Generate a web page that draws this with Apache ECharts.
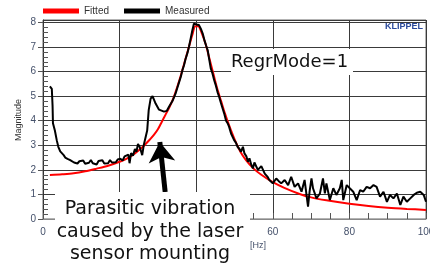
<!DOCTYPE html>
<html>
<head>
<meta charset="utf-8">
<script src="https://cdn.jsdelivr.net/npm/echarts@6/dist/echarts.min.js"></script>
<style>
  html, body { margin: 0; padding: 0; background: #fff; }
  #chart { width: 430px; height: 263px; }
</style>
</head>
<body>
<div id="chart"></div>
<script>
// Fitted curve (red)
var fittedFreq = [1.8, 5, 8, 11, 14, 17, 20, 22, 24, 26, 28, 29, 30, 31, 32, 33, 34, 35, 36, 37, 38, 39, 39.8, 40.5, 41.5, 42.5, 43.5, 44.5, 45.5, 46.5, 47.5, 48.5, 50, 51.5, 53, 55, 57, 60, 63, 67, 70, 74, 80, 85, 90, 95, 100];
var fittedMag = [1.79, 1.82, 1.86, 1.94, 2.05, 2.17, 2.33, 2.47, 2.67, 2.93, 3.25, 3.43, 3.65, 3.95, 4.25, 4.55, 4.9, 5.35, 5.85, 6.4, 6.95, 7.5, 7.85, 7.85, 7.55, 7.1, 6.5, 5.9, 5.3, 4.8, 4.3, 3.85, 3.25, 2.75, 2.4, 2.05, 1.8, 1.5, 1.27, 1.02, 0.88, 0.76, 0.62, 0.53, 0.46, 0.41, 0.37];

// Measured curve (black)
var measuredFreq = [1.8, 2.3, 2.5, 2.6, 3.1, 3.6, 4.0, 4.5, 4.9, 5.4, 5.8, 6.4, 7.1, 7.6, 8.1, 8.6, 9.0, 9.5, 10, 10.5, 11, 11.5, 12, 12.5, 13, 13.5, 14, 14.5, 15, 15.5, 16, 16.5, 17, 17.5, 18, 18.5, 19, 19.5, 20.2, 20.8, 21.3, 21.8, 22.3, 22.6, 23, 23.5, 24, 24.4, 24.8, 25.2, 25.6, 25.9, 26.3, 26.7, 27.2, 27.6, 28.1, 28.6, 29.0, 29.4, 29.8, 30.3, 30.8, 31.6, 32.3, 32.9, 33.4, 33.8, 34.2, 34.6, 35.1, 35.5, 36.0, 36.4, 36.8, 37.2, 37.7, 38.1, 38.5, 39.0, 39.4, 39.7, 40.0, 40.3, 40.7, 41.2, 41.7, 42.2, 42.6, 43.0, 43.4, 43.8, 44.2, 44.7, 45.1, 45.6, 46.0, 46.4, 46.9, 47.3, 47.8, 48.2, 48.6, 49.1, 49.5, 49.9, 50.4, 50.8, 51.3, 51.7, 52.2, 52.6, 53.1, 53.5, 53.9, 54.4, 54.8, 55.2, 55.6, 56.1, 56.5, 57.0, 57.4, 57.9, 58.3, 58.7, 59.1, 59.6, 60.0, 60.9, 61.5, 62.2, 63.1, 64.0, 64.8, 65.7, 66.6, 67.5, 68.3, 69.2, 69.6, 70.1, 70.5, 71.4, 72.3, 73.1, 73.6, 74.0, 74.9, 75.8, 76.6, 77.5, 78.0, 78.4, 79.3, 80.1, 81.0, 81.9, 82.8, 83.6, 84.5, 85.4, 86.3, 87.1, 88.0, 88.9, 89.8, 90.6, 91.5, 92.4, 93.3, 94.1, 95.0, 95.9, 96.8, 97.6, 98.5, 99.4, 100];
var measuredMag = [5.4, 5.3, 4.6, 3.9, 3.6, 3.2, 2.94, 2.75, 2.67, 2.6, 2.5, 2.45, 2.4, 2.44, 2.3, 2.36, 2.26, 2.35, 2.28, 2.38, 2.25, 2.33, 2.29, 2.4, 2.27, 2.35, 2.22, 2.36, 2.3, 2.39, 2.26, 2.33, 2.27, 2.4, 2.3, 2.36, 2.31, 2.42, 2.45, 2.38, 2.55, 2.47, 2.62, 2.27, 2.68, 2.58, 2.85, 2.74, 3.05, 2.95, 2.76, 2.6, 3.0, 3.05, 3.6, 4.43, 4.9, 5.0, 4.85, 4.7, 4.65, 4.45, 4.38, 4.37, 4.4, 4.57, 4.7, 4.8, 4.95, 5.1, 5.35, 5.55, 5.8, 6.06, 6.25, 6.5, 6.75, 7.0, 7.3, 7.68, 7.95, 8.0, 7.92, 7.89, 7.9, 7.75, 7.55, 7.25, 7.05, 6.87, 6.5, 6.13, 5.95, 5.65, 5.45, 5.15, 4.97, 4.75, 4.5, 4.3, 4.0, 3.9, 3.75, 3.48, 3.4, 3.21, 3.1, 2.94, 2.85, 2.74, 2.94, 2.67, 2.55, 2.33, 2.47, 2.2, 2.06, 2.3, 2.26, 2.0, 1.92, 2.15, 2.13, 1.85, 1.79, 1.7, 1.59, 1.55, 1.45, 1.65, 1.55, 1.45, 1.59, 1.38, 1.72, 1.31, 1.45, 1.11, 1.59, 0.5, 1.11, 1.65, 1.25, 0.84, 1.04, 1.65, 1.04, 1.45, 0.77, 1.25, 0.98, 1.25, 1.59, 0.77, 1.38, 1.25, 1.11, 0.77, 1.18, 1.11, 1.31, 1.25, 1.38, 1.31, 0.91, 1.11, 0.7, 0.98, 0.84, 1.04, 0.57, 0.91, 0.7, 0.84, 0.98, 1.07, 1.11, 0.98, 0.7];

// Annotation arrow (tail, tip) in axis units
var arrowFrom = [31.9, 1.1];
var arrowTo = [30.5, 3.13];

var xMin = 0, xMax = 100, xStep = 20;
var yMin = 0, yMax = 8.1, yStep = 1;

function pairs(xs, ys) {
  return xs.map(function (x, i) { return [x, ys[i]]; });
}

var dom = document.getElementById("chart");
var myChart = echarts.init(dom, null, { renderer: "canvas" });

var gridColor = "#3a3a3a";
var labelColor = "#44506a";

var option = {
  animation: false,
  textStyle: { fontFamily: "Liberation Sans, Arial, sans-serif" },
  legend: {
    left: 38,
    top: 1,
    itemGap: 15,
    itemWidth: 36,
    itemHeight: 5,
    textStyle: { fontSize: 10, color: "#333" },
    data: [
      { name: "Fitted", icon: "rect" },
      { name: "Measured", icon: "rect" },
    ],
  },
  grid: {
    left: 43, right: 4, top: 20, bottom: 44,
    outerBoundsMode: "none",
    show: true, borderColor: "#666", borderWidth: 1,
  },
  xAxis: {
    type: "value",
    min: xMin,
    max: xMax,
    interval: xStep,
    axisLine: { lineStyle: { color: "#888" } },
    axisTick: { inside: true, length: 6, lineStyle: { color: "#555" } },
    minorTick: { show: true, splitNumber: 4, length: 6, lineStyle: { color: "#555" } },
    axisLabel: { color: labelColor, fontSize: 10, margin: 8 },
    splitLine: { lineStyle: { color: gridColor } },
  },
  yAxis: [
    {
      type: "value",
      min: yMin,
      max: yMax,
      interval: yStep,
      axisLine: { show: true, lineStyle: { color: "#333" } },
      axisTick: { length: 5, lineStyle: { color: "#555" } },
      axisLabel: { color: labelColor, fontSize: 10, margin: 7, showMaxLabel: false },
      splitLine: { lineStyle: { color: gridColor } },
    },
    {
      type: "value",
      min: yMin,
      max: yMax,
      interval: yStep,
      position: "left",
      axisLine: { show: false },
      axisLabel: { show: false },
      axisTick: { show: false, inside: true },
      minorTick: { show: true, splitNumber: 5, length: 5, lineStyle: { color: "#555" } },
      splitLine: { show: false },
    },
  ],
  series: [
    {
      name: "Fitted",
      type: "line",
      data: pairs(fittedFreq, fittedMag),
      showSymbol: false,
      smooth: 0.3,
      itemStyle: { color: "#ff0000" },
      lineStyle: { color: "#ff0000", width: 2 },
    },
    {
      name: "Measured",
      type: "line",
      data: pairs(measuredFreq, measuredMag),
      showSymbol: false,
      itemStyle: { color: "#000" },
      lineStyle: { color: "#000", width: 2 },
      markLine: {
        silent: true,
        symbol: ["none", "arrow"],
        symbolSize: [20, 20],
        label: { show: false },
        lineStyle: { color: "#000", width: 5, type: "solid" },
        data: [[{ coord: arrowFrom }, { coord: arrowTo }]],
      },
    },
  ],
  graphic: [
    {
      // y axis title
      type: "text",
      x: 19,
      y: 120,
      rotation: Math.PI / 2,
      z: 100,
      style: {
        text: "Magnitude",
        font: "9px Liberation Sans, Arial",
        fill: "#333",
        textAlign: "center",
        textVerticalAlign: "middle",
      },
    },
    {
      type: "text",
      right: 7,
      top: 22,
      z: 100,
      style: { text: "KLIPPEL", font: "bold 9px Liberation Sans, Arial", fill: "#2b4a9c" },
    },
    {
      type: "rect",
      shape: { x: 231, y: 49, width: 122, height: 26 },
      z: 100,
      style: { fill: "#fff" },
    },
    {
      type: "text",
      x: 289.5,
      y: 62,
      z: 101,
      style: {
        text: "RegrMode=1",
        font: "18px DejaVu Sans",
        fill: "#111",
        textAlign: "center",
        textVerticalAlign: "middle",
      },
    },
    {
      type: "rect",
      shape: { x: 55, y: 192, width: 195, height: 71 },
      z: 100,
      style: { fill: "#fff" },
    },
    {
      type: "text",
      x: 150,
      y: 232,
      z: 101,
      style: {
        text: "Parasitic vibration\ncaused by the laser\nsensor mounting",
        font: "19px DejaVu Sans",
        lineHeight: 22.5,
        fill: "#111",
        textAlign: "center",
        textVerticalAlign: "middle",
      },
    },
    {
      type: "text",
      x: 250,
      y: 241,
      z: 101,
      style: { text: "[Hz]", font: "9px Liberation Sans, Arial", fill: labelColor },
    },
  ],
};

if (option && typeof option === "object") {
  myChart.setOption(option);
}

window.addEventListener("resize", myChart.resize);
</script>
</body>
</html>
